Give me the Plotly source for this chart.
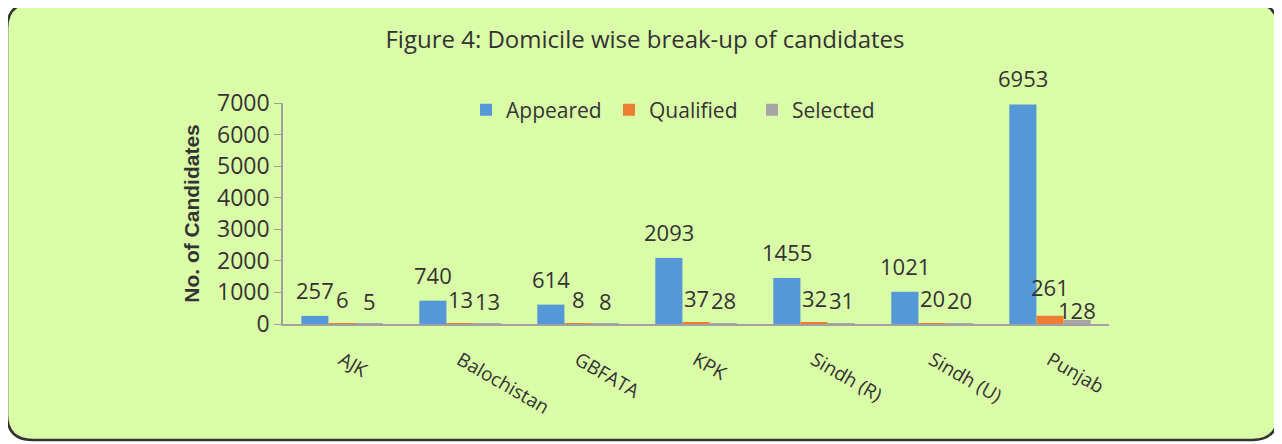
import plotly.graph_objects as go

categories = ["AJK", "Balochistan", "GBFATA", "KPK", "Sindh (R)", "Sindh (U)", "Punjab"]
appeared = [257, 740, 614, 2093, 1455, 1021, 6953]
qualified = [6, 13, 8, 37, 32, 20, 261]
selected = [5, 13, 8, 28, 31, 20, 128]
y_ticks = [0, 1000, 2000, 3000, 4000, 5000, 6000, 7000]

OFF = 8  # page body margin
W, H = 1282 - OFF, 444 - OFF
# plot area in screen pixels
L, R, T, B = 283, 1109, 103, 324
BARGAP = 0.31

def px(x):
    return (x - L) / (R - L)

def py(y):
    return (B - y) / (B - T)

FONT = "Open Sans"
TXT = "#333333"

fig = go.Figure()
series = [("Appeared", appeared, "#5598d8"), ("Qualified", qualified, "#ed7d31"), ("Selected", selected, "#a5a5a5")]
bar_w = (R - L) / len(categories) * (1 - BARGAP) / len(series)
label_lift = [9, 8, 6]
for si, (name, vals, col) in enumerate(series):
    fig.add_trace(go.Bar(name=name, x=categories, y=vals, marker=dict(color=col, line=dict(width=0))))
    for ci, v in enumerate(vals):
        lift = label_lift[si]
        # Punjab: labels staggered so 'Qualified' and 'Selected' do not collide, as in the original
        if categories[ci] == "Punjab" and name == "Selected":
            lift = -7
        if categories[ci] == "Punjab" and name == "Qualified":
            lift = 12
        fig.add_annotation(x=categories[ci], y=v, text=str(v), showarrow=False,
                           xshift=(si - 1) * bar_w, yshift=lift, yanchor="bottom", xanchor="center",
                           font=dict(family=FONT, size=22, color=TXT))

# rounded border (screen pixels)
x0, x1, y0, y1, r = 7, 1278, 3, 440, 26
path = (f"M {px(x0+r)} {py(y0)} L {px(x1-r)} {py(y0)} Q {px(x1)} {py(y0)} {px(x1)} {py(y0+r)} "
        f"L {px(x1)} {py(y1-r)} Q {px(x1)} {py(y1)} {px(x1-r)} {py(y1)} "
        f"L {px(x0+r)} {py(y1)} Q {px(x0)} {py(y1)} {px(x0)} {py(y1-r)} "
        f"L {px(x0)} {py(y0+r)} Q {px(x0)} {py(y0)} {px(x0+r)} {py(y0)} Z")
fig.add_shape(type="path", path=path, xref="paper", yref="paper", layer="below",
              fillcolor="#dafda8", line=dict(color="#333333", width=2.5))

fig.update_layout(
    width=W, height=H, barmode="group", bargap=BARGAP, bargroupgap=0,
    margin=dict(l=L - OFF, r=W - (R - OFF), t=T - OFF, b=H - (B - OFF), autoexpand=False),
    paper_bgcolor="white", plot_bgcolor="rgba(0,0,0,0)",
    title=dict(text="Figure 4: Domicile wise break-up of candidates", xref="paper", x=px(645), xanchor="center",
               yref="container", y=1 - (40 - OFF) / H, yanchor="middle",
               font=dict(family=FONT, size=24, color=TXT)),
    legend=dict(orientation="h", x=px(466), xanchor="left", y=py(110), yanchor="middle",
                font=dict(family=FONT, size=21, color=TXT), bgcolor="rgba(0,0,0,0)",
                entrywidth=98, entrywidthmode="pixels", itemwidth=30, traceorder="normal"),
    showlegend=True,
    font=dict(family=FONT, color=TXT),
)
fig.update_xaxes(showline=True, linecolor="#a0a0a0", linewidth=1.5, ticks="", tickangle=30,
                 ticklabelstandoff=16,
                 tickfont=dict(family=FONT, size=19, color=TXT), showgrid=False)
fig.update_yaxes(range=[0, 7000], tickvals=y_ticks, showline=True, linecolor="#a0a0a0", linewidth=1.5,
                 ticks="outside", ticklen=7, tickcolor="#a0a0a0", showgrid=False, zeroline=False,
                 tickfont=dict(family=FONT, size=23, color=TXT),
                 title=dict(text="<b>No. of Candidates</b>", font=dict(family="Liberation Sans", size=21, color=TXT),
                            standoff=12))

fig.write_html("out.html")
